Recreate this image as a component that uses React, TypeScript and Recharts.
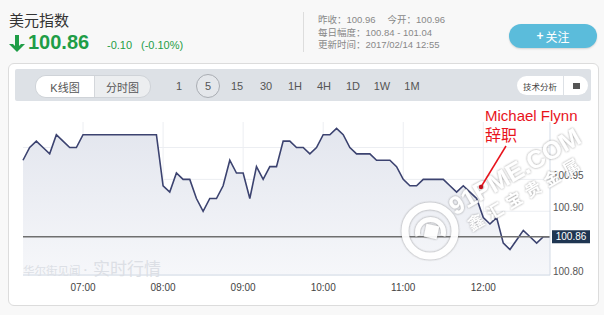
import React from 'react';
import { ComposedChart, Area, XAxis, YAxis, CartesianGrid, ReferenceLine } from 'recharts';

// 5-minute quotes, 2017/02/14
const times = [
  '06:15', '06:20', '06:25', '06:30', '06:35', '06:40', '06:45', '06:50', '06:55',
  '07:00', '07:05', '07:10', '07:15', '07:20', '07:25', '07:30', '07:35', '07:40', '07:45', '07:50', '07:55',
  '08:00', '08:05', '08:10', '08:15', '08:20', '08:25', '08:30', '08:35', '08:40', '08:45', '08:50', '08:55',
  '09:00', '09:05', '09:10', '09:15', '09:20', '09:25', '09:30', '09:35', '09:40', '09:45', '09:50', '09:55',
  '10:00', '10:05', '10:10', '10:15', '10:20', '10:25', '10:30', '10:35', '10:40', '10:45', '10:50', '10:55',
  '11:00', '11:05', '11:10', '11:15', '11:20', '11:25', '11:30', '11:35', '11:40', '11:45', '11:50', '11:55',
  '12:00', '12:05', '12:10', '12:15', '12:20', '12:25', '12:30', '12:35', '12:40', '12:45', '12:50',
];

const prices = [
  100.98, 101.0, 101.01, 101.0, 100.99, 101.02, 101.01, 101.0, 101.0,
  101.02, 101.02, 101.02, 101.02, 101.02, 101.02, 101.02, 101.02, 101.02, 101.02, 101.02, 101.02,
  100.94, 100.93, 100.96, 100.95, 100.95, 100.92, 100.9, 100.92, 100.92, 100.94, 100.98, 100.96,
  100.96, 100.92, 100.97, 100.95, 100.97, 100.97, 101.01, 101.01, 101.0, 101.0, 100.99, 101.0,
  101.02, 101.02, 101.03, 101.02, 101.0, 100.99, 100.99, 100.99, 100.98, 100.98, 100.98, 100.97,
  100.95, 100.94, 100.94, 100.95, 100.95, 100.95, 100.95, 100.94, 100.93, 100.94, 100.93, 100.92,
  100.89, 100.88, 100.89, 100.85, 100.84, 100.855, 100.87, 100.86, 100.85, 100.86, 100.86,
];

const xTickLabels = ['07:00', '08:00', '09:00', '10:00', '11:00', '12:00'];
const yTickLabels = [100.8, 100.9, 100.95];
const yGridValues = [100.8, 100.85, 100.9, 100.95, 101.0];
const yDomain = [100.8, 101.04];
const lastPrice = 100.86;
const periods = ['1', '5', '15', '30', '1H', '4H', '1D', '1W', '1M'];
const periodX = [179, 208, 237, 266, 295, 324, 353, 382, 412];

const toMin = (t: string) => {
  const [h, m] = t.split(':').map(Number);
  return h * 60 + m;
};

const data = times.map((t, i) => ({ t: toMin(t), v: prices[i] }));

const FONT = "'Liberation Sans', 'Noto Sans CJK SC', sans-serif";
const GREEN = '#1f9d47';

const XTick = ({ x, y, payload }: any) => (
  <text x={x} y={y + 8} textAnchor="middle" fontSize={10} fill="#444">
    {`${String(Math.floor(payload.value / 60)).padStart(2, '0')}:${String(payload.value % 60).padStart(2, '0')}`}
  </text>
);

const YTick = ({ y, payload }: any) => (
  <text x={553} y={y} fontSize={10} fill="#555">
    {payload.value.toFixed(2)}
  </text>
);

const PriceLabel = ({ viewBox }: any) => {
  const { x, y, width } = viewBox;
  return (
    <g>
      <rect x={x + width + 2} y={y - 6.5} width={38} height={13} fill="#1f3652" />
      <text x={x + width + 21} y={y + 3.5} textAnchor="middle" fontSize={10} fill="#fff">
        {lastPrice.toFixed(2)}
      </text>
    </g>
  );
};

const abs = (s: React.CSSProperties): React.CSSProperties => ({ position: 'absolute', ...s });

export default function App() {
  return (
    <div style={abs({ left: 0, top: 0, width: 604, height: 315, background: '#f8f8f8', overflow: 'hidden', fontFamily: FONT })}>
      {/* header */}
      <div style={abs({ left: 9, top: 9, fontSize: 15, color: '#333' })}>美元指数</div>
      <div style={abs({ left: 8, top: 31, fontSize: 20, fontWeight: 'bold', color: GREEN, display: 'flex', alignItems: 'center' })}>
        <svg width={18} height={20} viewBox="0 0 18 20">
          <path d="M9 19 L1 11 L5 11 L7 13 L7 2 L11 2 L11 13 L13 11 L17 11 Z" fill={GREEN} />
        </svg>
        <span style={{ marginLeft: 2 }}>100.86</span>
      </div>
      <div style={abs({ left: 107, top: 39, fontSize: 11, color: GREEN })}>-0.10</div>
      <div style={abs({ left: 141, top: 39, fontSize: 11, color: GREEN })}>(-0.10%)</div>

      <div style={abs({ left: 303, top: 12, width: 1, height: 40, background: '#ddd' })} />
      <div style={abs({ left: 318, top: 14, fontSize: 9.5, color: '#888', lineHeight: '12.5px' })}>
        <div>昨收：100.96<span style={{ marginLeft: 12 }}>今开：100.96</span></div>
        <div>每日幅度：100.84 - 101.04</div>
        <div>更新时间：2017/02/14 12:55</div>
      </div>
      <div
        style={abs({
          left: 509, top: 24, width: 88, height: 24, borderRadius: 12, background: '#5bbcdb',
          color: '#fff', fontSize: 12, display: 'flex', alignItems: 'center', justifyContent: 'center',
          boxShadow: '0 1px 2px rgba(0,0,0,0.15)',
        })}
      >
        <b style={{ marginRight: 2 }}>+</b>关注
      </div>

      {/* panel */}
      <div style={abs({ left: 8, top: 63, width: 589, height: 241, background: '#fff', border: '1px solid #dcdcdc', borderRadius: 6 })} />
      <div style={abs({ left: 15, top: 69, width: 576, height: 32, background: '#dde1e6', borderRadius: 2 })} />
      <div style={abs({ left: 35, top: 75, width: 114, height: 21, borderRadius: 11, background: '#eceef0', border: '1px solid #cfd3d8', overflow: 'hidden', display: 'flex', fontSize: 11, color: '#555' })}>
        <div style={{ width: 58, background: '#fff', display: 'flex', alignItems: 'center', justifyContent: 'center' }}>K线图</div>
        <div style={{ flex: 1, borderLeft: '1px solid #d4d7db', display: 'flex', alignItems: 'center', justifyContent: 'center' }}>分时图</div>
      </div>
      {periods.map((p, i) => (
        <div
          key={p}
          style={abs({
            left: periodX[i] - 12, top: 74, width: 22, height: 22, fontSize: 11, color: '#555',
            display: 'flex', alignItems: 'center', justifyContent: 'center', borderRadius: 12,
            border: p === '5' ? '1px solid #a9adb3' : '1px solid transparent',
            background: p === '5' ? '#e4e7eb' : 'transparent',
          })}
        >
          {p}
        </div>
      ))}
      <div style={abs({ left: 517, top: 76, width: 46, height: 19, borderRadius: '10px 0 0 10px', background: '#fff', fontSize: 8.5, color: '#444', display: 'flex', alignItems: 'center', justifyContent: 'center' })}>技术分析</div>
      <div style={abs({ left: 564, top: 76, width: 24, height: 19, borderRadius: '0 10px 10px 0', background: '#fff', display: 'flex', alignItems: 'center', justifyContent: 'center' })}>
        <div style={{ width: 7, height: 7, background: '#555', borderTop: '1px solid #fff', boxSizing: 'border-box' }} />
      </div>

      {/* chart */}
      <div style={abs({ left: 0, top: 0 })}>
        <ComposedChart width={604} height={315} data={data} margin={{ top: 122, right: 0, bottom: 10, left: 23 }}>
          <defs>
            <linearGradient id="areaFill" x1="0" y1="0" x2="0" y2="1">
              <stop offset="0%" stopColor="#e3e6ee" />
              <stop offset="100%" stopColor="#f6f7fa" />
            </linearGradient>
          </defs>
          <CartesianGrid
            stroke="#eceef2"
            horizontalValues={yGridValues}
            verticalValues={xTickLabels.map(toMin)}
          />
          <XAxis
            dataKey="t"
            type="number"
            domain={[toMin(times[0]), toMin(times[times.length - 1])]}
            ticks={xTickLabels.map(toMin)}
            height={30}
            tickLine={false}
            axisLine={{ stroke: '#d3dbe6' }}
            tick={<XTick />}
            interval={0}
          />
          <YAxis
            orientation="right"
            type="number"
            domain={yDomain}
            ticks={yTickLabels}
            width={54}
            tickLine={false}
            axisLine={{ stroke: '#d3dbe6' }}
            tick={<YTick />}
            allowDataOverflow
            interval={0}
          />
          <Area
            type="linear"
            dataKey="v"
            stroke="#3c4370"
            strokeWidth={1.6}
            fill="url(#areaFill)"
            fillOpacity={1}
            dot={false}
            activeDot={false}
            isAnimationActive={false}
          />
          <ReferenceLine y={lastPrice} stroke="#6f6f6f" strokeWidth={1.5} label={<PriceLabel />} />
        </ComposedChart>
      </div>

      {/* source watermark */}
      <div style={abs({ left: 23, top: 255, color: '#dcdfe5', whiteSpace: 'nowrap', display: 'flex', alignItems: 'baseline' })}>
        <span style={{ fontSize: 11.5 }}>华尔街见闻</span>
        <span style={{ fontSize: 17, marginLeft: 2 }}>· 实时行情</span>
      </div>

      {/* annotation + watermark overlay */}
      <svg width={604} height={315} style={abs({ left: 0, top: 0, pointerEvents: 'none' })}>
        <defs>
          <filter id="wmShadow" x="-20%" y="-20%" width="140%" height="140%">
            <feDropShadow dx="0" dy="0" stdDeviation="1.3" floodColor="#666" floodOpacity="0.75" />
          </filter>
        </defs>
        <g filter="url(#wmShadow)" opacity={0.95}>
          <circle cx={430} cy={231} r={25} fill="none" stroke="#fff" strokeWidth={7} />
          <path d="M 418 236 A 13 13 0 1 1 443 236" fill="none" stroke="#fff" strokeWidth={5} />
          <rect x={425} y={225} width={13} height={13} fill="#fff" transform="rotate(12 431.5 231.5)" />
          <text
            x={515}
            y={180}
            fontSize={25}
            fontWeight="bold"
            fill="#fff"
            textAnchor="middle"
            transform="rotate(-30 515 172)"
          >
            91PME.COM
          </text>
          <text
            x={526}
            y={199}
            fontSize={16}
            fontWeight="bold"
            fill="#fff"
            textAnchor="middle"
            letterSpacing={6}
            transform="rotate(-30 526 193)"
          >
            鑫汇宝贵金属
          </text>
        </g>
        <text x={485} y={121} fontSize={15} fill="#e8131c">Michael Flynn</text>
        <text x={485} y={141} fontSize={16} fill="#e8131c">辞职</text>
        <line x1={506} y1={146} x2={481} y2={187} stroke="#e8131c" strokeWidth={1.5} />
        <circle cx={481} cy={187} r={2.2} fill="#c0101a" />
      </svg>
    </div>
  );
}
